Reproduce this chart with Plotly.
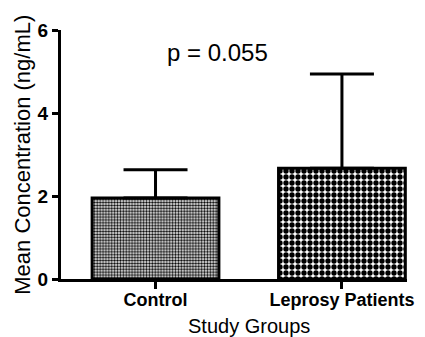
import plotly.graph_objects as go

categories = ["Control", "Leprosy Patients"]
means = [1.95, 2.67]
err_plus = [0.68, 2.27]
err_minus = [0, 0]
pattern_sizes = [2.9, 6]
pattern_solidity = [0.5, 0.62]
y_ticks = [0, 2, 4, 6]
p_text = "p = 0.055"

FONT = "Liberation Sans, Arial, sans-serif"

fig = go.Figure()
fig.add_trace(go.Bar(
    x=[0, 1],
    y=means,
    width=0.68,
    marker=dict(
        color="white",
        line=dict(color="black", width=3),
        pattern=dict(shape=".", fgcolor="black", bgcolor="white",
                     size=pattern_sizes, solidity=pattern_solidity, fillmode="replace"),
    ),
    error_y=dict(type="data", symmetric=False, array=err_plus, arrayminus=err_minus,
                 color="black", thickness=3, width=32),
    showlegend=False,
))

fig.update_layout(
    width=417, height=329,
    margin=dict(l=53, r=18, t=22, b=58),
    paper_bgcolor="white", plot_bgcolor="white",
    font=dict(family=FONT, color="black"),
    xaxis=dict(
        range=[-0.507, 1.349],
        tickmode="array", tickvals=[0, 1], ticktext=[f"<b>{c}</b>" for c in categories],
        tickfont=dict(size=18, family=FONT),
        showline=True, linecolor="black", linewidth=3,
        ticks="outside", ticklen=7, tickwidth=3, tickcolor="black",
        ticklabelstandoff=-5,
        showgrid=False, zeroline=False,
    ),
    yaxis=dict(
        range=[0, 6],
        tickmode="array", tickvals=y_ticks, ticktext=[f"<b>{t}</b>" for t in y_ticks],
        tickfont=dict(size=19, family=FONT),
        showline=True, linecolor="black", linewidth=3,
        ticks="outside", ticklen=6, tickwidth=3, tickcolor="black",
        showgrid=False, zeroline=False,
    ),
    annotations=[
        dict(text=p_text, x=0.33, y=5.47, xref="x", yref="y", showarrow=False,
             font=dict(size=24, family=FONT), xanchor="center", yanchor="middle"),
        dict(text="Study Groups", x=0.543, y=-0.187, xref="paper", yref="paper",
             showarrow=False, font=dict(size=20, family=FONT), xanchor="center", yanchor="middle"),
        dict(text="Mean Concentration (ng/mL)", x=-0.112, y=0.5, xref="paper", yref="paper",
             showarrow=False, textangle=-90, font=dict(size=22, family=FONT),
             xanchor="center", yanchor="middle"),
    ],
)

fig.write_html("out.html")
